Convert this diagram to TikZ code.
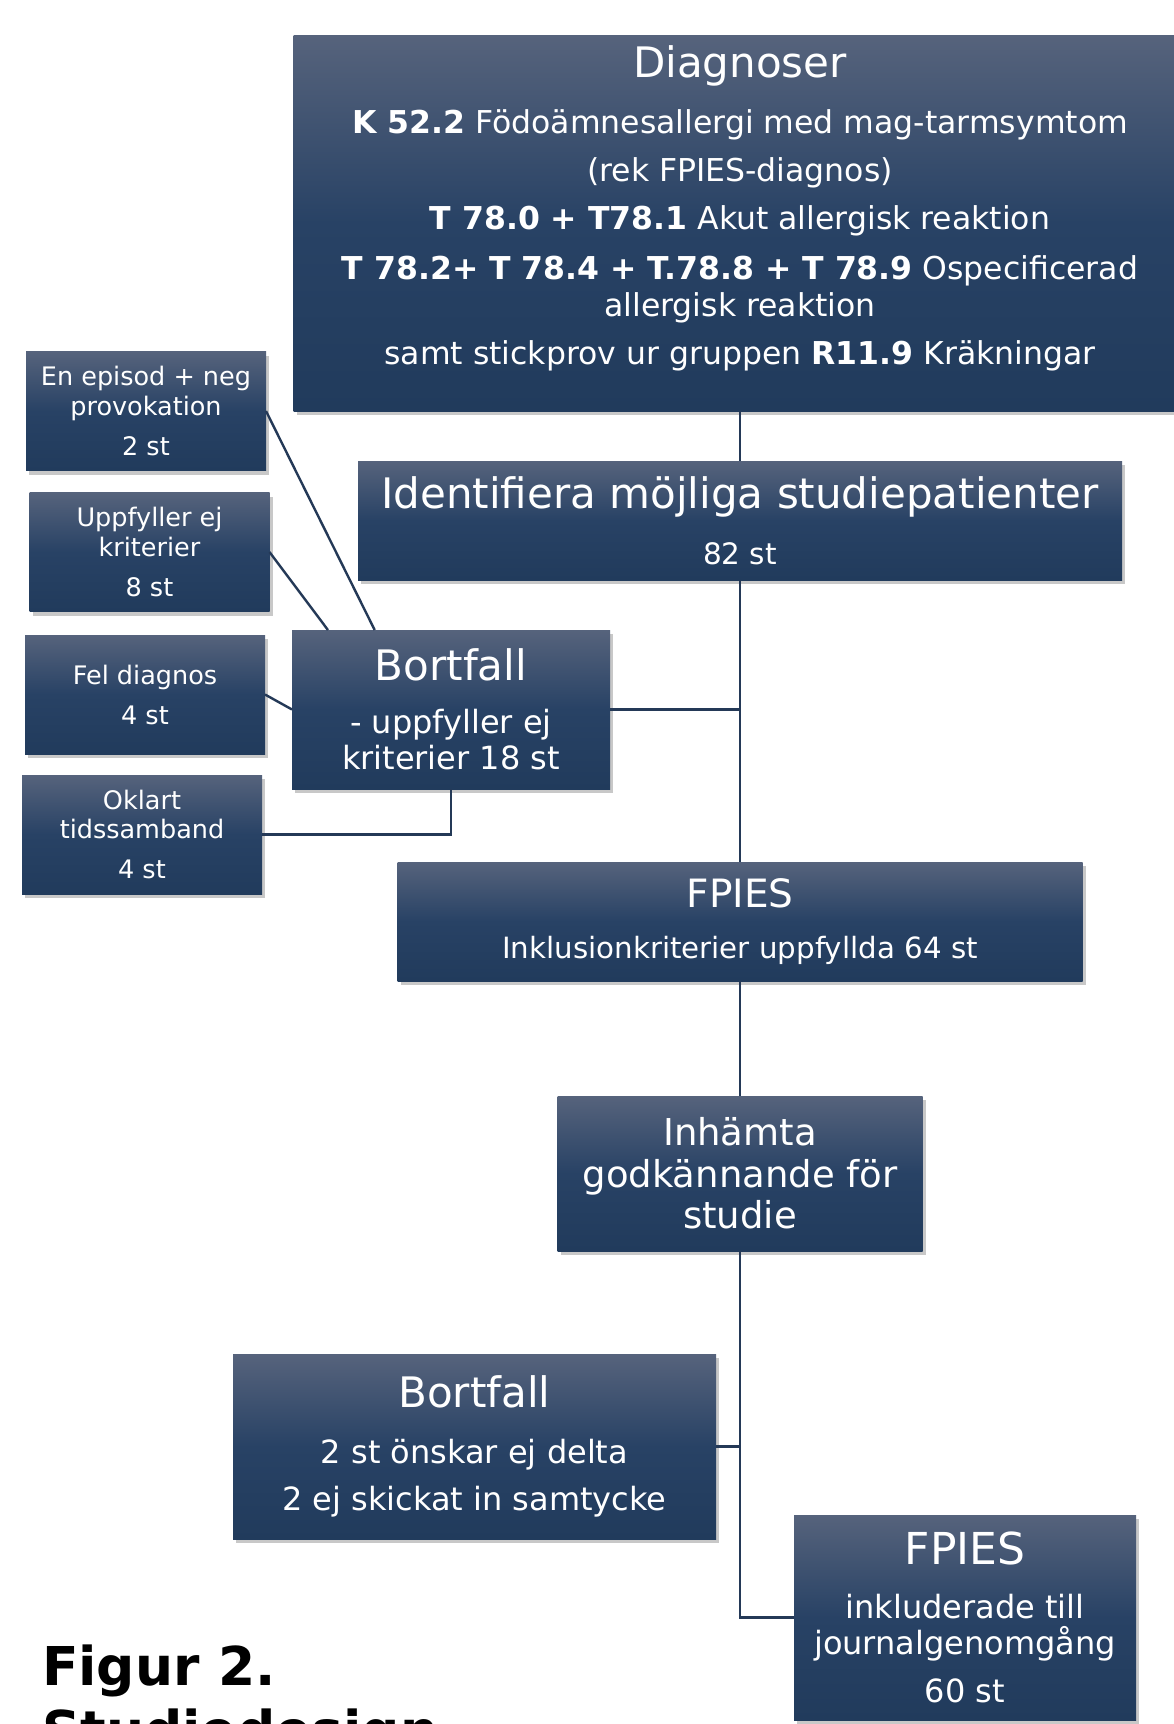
\documentclass[tikz,border=0pt]{standalone}
\usepackage{fontspec}
\setmainfont{DejaVu Sans}
\usetikzlibrary{calc,shadows}
\definecolor{BoxTop}{RGB}{86,99,124}
\definecolor{BoxMid}{RGB}{40,66,101}
\definecolor{BoxBottom}{RGB}{33,59,92}
\definecolor{LineBlue}{RGB}{36,57,87}
\newcommand{\rubrik}[1]{{\fontsize{42}{42}\selectfont #1}}

\begin{document}
\begin{tikzpicture}[
    x=1pt, y=-1pt,
    every node/.style={inner sep=0pt, outer sep=0pt},
    boks/.style={rectangle, top color=BoxTop, bottom color=BoxBottom, middle color=BoxMid,
        text=white, align=center,
        drop shadow={shadow xshift=3pt, shadow yshift=-4pt, opacity=0.3, fill=black!70}},
    liten/.style={boks, minimum width=240pt, minimum height=119pt,
        font=\fontsize{25.5}{29.5}\selectfont},
    forbind/.style={draw=LineBlue, line width=2.4pt},
]
\path[use as bounding box, fill=white] (0,0) rectangle (1173,1724);

% huvudkedjan
\node[boks, minimum width=893pt, minimum height=376pt, font=\fontsize{31.5}{37}\selectfont] (diag) at (740,223)
  {\rubrik{Diagnoser}\\[19pt]
   \textbf{K 52.2} Födoämnesallergi med mag-tarmsymtom\\[11pt]
   (rek FPIES-diagnos)\\[11pt]
   \textbf{T 78.0 + T78.1} Akut allergisk reaktion\\[13pt]
   \textbf{T 78.2+ T 78.4 + T.78.8 + T 78.9} Ospecificerad\\
   allergisk reaktion\\[11pt]
   samt stickprov ur gruppen \textbf{R11.9} Kräkningar\rule[-35pt]{0pt}{0pt}};
\node[boks, minimum width=764pt, minimum height=119pt, font=\fontsize{29.5}{35}\selectfont] (ident) at (740,520.5)
  {\rubrik{Identifiera möjliga studiepatienter}\\[21pt] 82 st};
\node[boks, minimum width=685pt, minimum height=119pt, font=\fontsize{29.3}{34}\selectfont] (fpies1) at (740,921.5)
  {{\fontsize{39}{39}\selectfont FPIES}\\[17pt] Inklusionkriterier uppfyllda 64 st};
\node[boks, minimum width=365pt, minimum height=155pt, font=\fontsize{37}{41.5}\selectfont] (inh) at (740,1173.5)
  {Inhämta\\ godkännande för\\ studie};
\node[boks, minimum width=342pt, minimum height=205pt, font=\fontsize{32}{36}\selectfont] (fpies2) at (965,1617.5)
  {{\fontsize{44}{44}\selectfont FPIES}\\[18pt] inkluderade till\\ journalgenomgång\\[12pt] 60 st};

% bortfall
\node[boks, minimum width=318pt, minimum height=159pt, font=\fontsize{32}{36}\selectfont] (bort1) at (451,709.5)
  {\rubrik{Bortfall}\\[17pt] - uppfyller ej\\ kriterier 18 st};
\node[boks, minimum width=483pt, minimum height=185pt, font=\fontsize{32}{37}\selectfont] (bort2) at (474.5,1446.5)
  {\rubrik{Bortfall}\\[19pt] 2 st önskar ej delta\\[10pt] 2 ej skickat in samtycke};

\node[liten] (episod) at (146,411) {En episod + neg\\ provokation\\[10.5pt] 2 st};
\node[liten] (uppfej) at (149.5,552) {Uppfyller ej\\ kriterier\\[10.5pt] 8 st};
\node[liten] (feldiag) at (145,694.5) {Fel diagnos\\[10.5pt] 4 st};
\node[liten] (oklart) at (142,834.5) {Oklart\\ tidssamband\\[10.5pt] 4 st};

\node[anchor=north west, align=left, font=\fontsize{53.5}{64}\selectfont\bfseries] (figtext) at (42,1645)
  {Figur 2.\\ Studiedesign};

% linjer
\draw[forbind] (diag) -- (ident);
\draw[forbind] (ident) -- (fpies1);
\draw[forbind] (fpies1) -- (inh);
\draw[forbind] (inh.south) |- (fpies2.west);
\draw[forbind] (bort1.east) -- (bort1.east -| ident.south);
\draw[forbind] (bort2.east) -- (bort2.east -| inh.south);
\draw[forbind] (episod.east) -- ($(bort1.north west)!0.26!(bort1.north east)$);
\draw[forbind] (uppfej.east) -- ($(bort1.north west)!0.113!(bort1.north east)$);
\draw[forbind] (feldiag.east) -- (bort1.west);
\draw[forbind] (oklart.east) -| (bort1.south);
\end{tikzpicture}
\end{document}
